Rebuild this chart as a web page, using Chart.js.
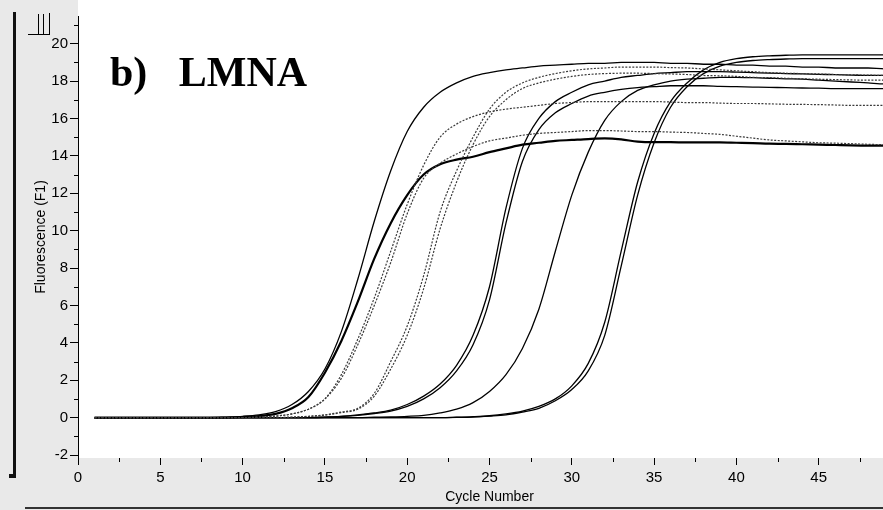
<!DOCTYPE html>
<html>
<head>
<meta charset="utf-8">
<script src="https://cdn.jsdelivr.net/npm/chart.js@4.4.1/dist/chart.umd.min.js"></script>
<style>
  html, body { margin: 0; padding: 0; overflow: hidden; background: #e9e9e9; }
  #wrap { position: relative; width: 920px; height: 510px; }
  #title { position: absolute; left: 110px; top: 51px; font: bold 42px "Liberation Serif", "Times New Roman", serif; line-height: 42px; color: #000; white-space: pre; }
</style>
</head>
<body>
<div id="wrap">
  <canvas id="c"></canvas>
  <div id="title">b)   LMNA</div>
</div>
<script>
const cycles = [1,2,3,4,5,6,7,8,9,10,11,12,13,14,15,16,17,18,19,20,21,22,23,24,25,26,27,28,29,30,31,32,33,34,35,36,37,38,39,40,41,42,43,44,45,46,47,48,49,50];
const xTickLabels = ["0","5","10","15","20","25","30","35","40","45"];
const yTickLabels = ["-2","0","2","4","6","8","10","12","14","16","18","20"];

const sampleA  = [0,0,0,0,0,0,0,0,0.03,0.07,0.15,0.32,0.7,1.4,2.6,4.6,7.4,10.5,13.2,15.3,16.6,17.4,17.9,18.25,18.45,18.6,18.7,18.8,18.85,18.9,18.95,18.95,19.0,19.0,19.0,18.95,18.95,18.9,18.9,18.85,18.85,18.8,18.8,18.75,18.75,18.7,18.7,18.7,18.65,18.65];
const sampleB  = [0,0,0,0,0,0,0,0,0,0.03,0.08,0.2,0.5,1.1,2.4,4.1,6.2,8.5,10.4,11.9,13.0,13.55,13.8,13.95,14.2,14.4,14.6,14.7,14.8,14.85,14.9,14.93,14.88,14.76,14.73,14.73,14.72,14.72,14.72,14.7,14.68,14.65,14.64,14.62,14.6,14.58,14.56,14.55,14.55,14.55];
const sampleC  = [0,0,0,0,0,0,0,0,0,0,0.03,0.08,0.2,0.45,1.0,2.1,3.9,6.0,8.3,10.9,12.8,13.6,14.1,14.5,14.8,14.95,15.1,15.2,15.25,15.3,15.35,15.35,15.33,15.3,15.3,15.27,15.25,15.2,15.15,15.05,14.95,14.85,14.8,14.75,14.7,14.68,14.65,14.62,14.6,14.6];
const sampleD  = [0,0,0,0,0,0,0,0,0,0,0.03,0.08,0.2,0.45,1.0,2.3,4.2,6.4,8.9,11.4,13.5,15.0,15.7,16.1,16.35,16.5,16.6,16.7,16.8,16.85,16.9,16.9,16.9,16.9,16.9,16.88,16.85,16.85,16.82,16.8,16.8,16.78,16.76,16.75,16.74,16.72,16.7,16.7,16.7,16.7];
const sampleE1 = [0,0,0,0,0,0,0,0,0,0,0,0,0.03,0.07,0.15,0.3,0.5,1.3,3.0,4.9,7.6,11.0,13.2,15.0,16.5,17.4,17.9,18.2,18.4,18.55,18.65,18.7,18.75,18.75,18.75,18.72,18.7,18.65,18.6,18.55,18.5,18.45,18.42,18.4,18.38,18.35,18.33,18.32,18.3,18.3];
const sampleE2 = [0,0,0,0,0,0,0,0,0,0,0,0,0.02,0.06,0.13,0.27,0.45,1.15,2.6,4.4,6.9,10.1,12.6,14.6,16.1,17.0,17.6,17.9,18.1,18.25,18.35,18.4,18.42,18.42,18.4,18.38,18.35,18.3,18.28,18.25,18.2,18.18,18.15,18.12,18.1,18.08,18.06,18.05,18.05,18.05];
const sampleF1 = [0,0,0,0,0,0,0,0,0,0,0,0,0,0,0.03,0.07,0.15,0.25,0.4,0.7,1.15,1.8,2.8,4.4,7.0,11.2,14.4,16.0,16.9,17.4,17.8,18.0,18.2,18.3,18.4,18.45,18.5,18.5,18.5,18.48,18.45,18.42,18.4,18.38,18.36,18.34,18.32,18.3,18.3,18.3];
const sampleF2 = [0,0,0,0,0,0,0,0,0,0,0,0,0,0,0.02,0.06,0.12,0.22,0.35,0.6,1.0,1.6,2.5,3.9,6.3,10.4,13.7,15.4,16.3,16.8,17.2,17.4,17.55,17.65,17.7,17.75,17.75,17.75,17.72,17.7,17.68,17.66,17.65,17.63,17.62,17.6,17.6,17.6,17.6,17.6];
const sampleG  = [0,0,0,0,0,0,0,0,0,0,0,0,0,0,0,0,0,0.02,0.04,0.07,0.12,0.25,0.45,0.8,1.4,2.3,3.7,5.8,8.9,11.9,14.2,15.9,16.9,17.5,17.8,18.0,18.1,18.15,18.2,18.2,18.18,18.15,18.12,18.1,18.05,18.0,17.95,17.9,17.85,17.85];
const sampleH1 = [0,0,0,0,0,0,0,0,0,0,0,0,0,0,0,0,0,0,0,0,0,0,0.02,0.05,0.1,0.2,0.35,0.6,1.0,1.7,2.9,5.1,8.9,12.6,15.2,16.9,17.9,18.6,19.0,19.2,19.3,19.35,19.38,19.4,19.4,19.4,19.4,19.4,19.4,19.4];
const sampleH2 = [0,0,0,0,0,0,0,0,0,0,0,0,0,0,0,0,0,0,0,0,0,0,0.01,0.03,0.08,0.15,0.3,0.5,0.9,1.5,2.5,4.4,8.1,11.9,14.7,16.6,17.7,18.4,18.8,19.0,19.1,19.15,19.18,19.2,19.2,19.2,19.2,19.2,19.2,19.2];

const toPts = arr => arr.map((v, i) => ({ x: cycles[i], y: v }));

function lineDs(arr, color, width, dash) {
  return {
    data: toPts(arr),
    borderColor: color,
    borderWidth: width,
    borderDash: dash || [],
    pointRadius: 0,
    fill: false,
    cubicInterpolationMode: 'monotone'
  };
}

const datasets = [
  lineDs(sampleD,  '#3a3a3a', 1.2, [2, 1.5]),
  lineDs(sampleC,  '#3a3a3a', 1.2, [2, 1.5]),
  lineDs(sampleE1, '#3a3a3a', 1.2, [2, 1.5]),
  lineDs(sampleE2, '#3a3a3a', 1.2, [2, 1.5]),
  lineDs(sampleA,  '#000', 1.3),
  lineDs(sampleB,  '#000', 2.2),
  lineDs(sampleF1, '#000', 1.3),
  lineDs(sampleF2, '#000', 1.3),
  lineDs(sampleG,  '#000', 1.3),
  lineDs(sampleH1, '#000', 1.3),
  lineDs(sampleH2, '#000', 1.3)
];

const backdrop = {
  id: 'backdrop',
  beforeDraw(chart) {
    const ctx = chart.ctx;
    const a = chart.chartArea;
    ctx.save();
    ctx.fillStyle = '#e9e9e9';
    ctx.fillRect(0, 0, chart.width, chart.height);
    ctx.fillStyle = '#ffffff';
    ctx.fillRect(a.left, 0, chart.width - a.left, a.bottom);
    ctx.restore();
  },
  afterDraw(chart) {
    const ctx = chart.ctx;
    const xs = chart.scales.x, ys = chart.scales.y;
    const a = chart.chartArea;
    ctx.save();
    ctx.strokeStyle = '#000';
    ctx.lineWidth = 1;
    ctx.beginPath();
    for (let v = -1; v <= 21; v += 2) {
      const p = Math.round(ys.getPixelForValue(v)) + 0.5;
      ctx.moveTo(a.left - 4, p); ctx.lineTo(a.left, p);
    }
    for (let v = 2.5; v < 50; v += 5) {
      const p = Math.round(xs.getPixelForValue(v)) + 0.5;
      ctx.moveTo(p, a.bottom); ctx.lineTo(p, a.bottom + 4);
    }
    ctx.stroke();
    // window frame pieces
    ctx.fillStyle = '#111';
    ctx.fillRect(13, 12, 3, 466);
    ctx.fillRect(9, 474, 6, 4);
    ctx.fillStyle = '#333';
    ctx.fillRect(25, 507, chart.width, 2);
    // small icon at top-left
    ctx.beginPath();
    ctx.moveTo(28, 34.5); ctx.lineTo(50, 34.5);
    ctx.moveTo(38.5, 14); ctx.lineTo(38.5, 34);
    ctx.moveTo(43.5, 14); ctx.lineTo(43.5, 34);
    ctx.moveTo(49.5, 13); ctx.lineTo(49.5, 34);
    ctx.stroke();
    ctx.restore();
  }
};

new Chart(document.getElementById('c'), {
  type: 'line',
  data: { datasets },
  plugins: [backdrop],
  options: {
    responsive: true,
    maintainAspectRatio: false,
    animation: false,
    events: [],
    layout: { padding: { top: 16, right: 19, bottom: 0, left: 0 } },
    plugins: { legend: { display: false }, tooltip: { enabled: false } },
    scales: {
      x: {
        type: 'linear',
        min: 0, max: 50,
        afterFit(s) { s.height = 52; },
        border: { display: false },
        grid: { drawOnChartArea: false, drawTicks: true, tickLength: 7, color: '#000', tickColor: '#000' },
        ticks: {
          stepSize: 5,
          includeBounds: false,
          padding: 4,
          color: '#000',
          maxRotation: 0,
          font: { family: '"Liberation Sans", Arial, sans-serif', size: 15 },
          callback: (v) => { const i = Math.round(v / 5); return (v % 5 === 0 && i < xTickLabels.length) ? xTickLabels[i] : ''; }
        },
        title: {
          display: true, text: 'Cycle Number', color: '#000',
          font: { family: '"Liberation Sans", Arial, sans-serif', size: 14 },
          padding: { top: 0, bottom: 4 }
        }
      },
      y: {
        min: -2.16, max: 21.48,
        afterFit(s) { s.width = 78; },
        border: { display: true, color: '#000', width: 1 },
        grid: { drawOnChartArea: false, drawTicks: true, tickLength: 8, color: '#000', tickColor: '#000' },
        ticks: {
          stepSize: 2,
          includeBounds: false,
          padding: 2,
          color: '#000',
          font: { family: '"Liberation Sans", Arial, sans-serif', size: 15 },
          callback: (v) => { const i = Math.round((v + 2) / 2); return yTickLabels[i] !== undefined ? yTickLabels[i] : ''; }
        },
        title: {
          display: true, text: 'Fluorescence (F1)', color: '#000',
          font: { family: '"Liberation Sans", Arial, sans-serif', size: 14 },
          padding: { top: 33, bottom: 0 }
        }
      }
    }
  }
});
</script>
</body>
</html>
